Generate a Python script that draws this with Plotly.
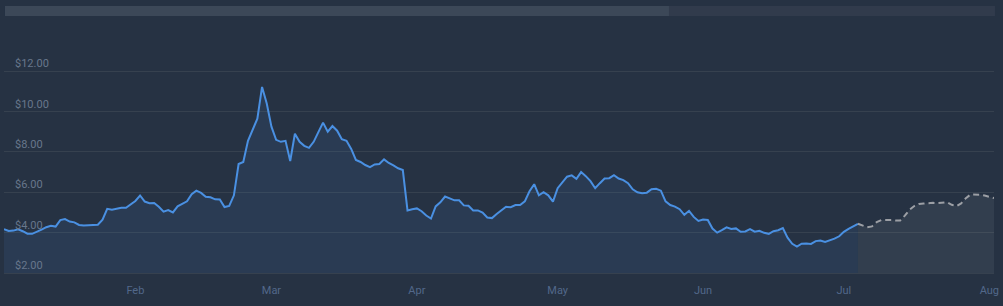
import pandas as pd
import plotly.graph_objects as go

# ---- data ----
hist_start = "2024-01-04"
hist_prices = [
    4.17, 4.08, 4.10, 4.17, 4.07, 3.95, 3.94, 4.03, 4.15, 4.27,
    4.34, 4.30, 4.62, 4.67, 4.55, 4.51, 4.38, 4.35, 4.36, 4.40,
    4.39, 4.64, 5.18, 5.14, 5.20, 5.23, 5.23, 5.40, 5.57, 5.84,
    5.54, 5.46, 5.47, 5.28, 5.04, 5.12, 5.00, 5.30, 5.43, 5.55,
    5.90, 6.08, 5.97, 5.78, 5.75, 5.65, 5.64, 5.27, 5.32, 5.85,
    7.40, 7.50, 8.55, 9.15, 9.65, 11.22, 10.40, 9.25, 8.60, 8.50,
    8.55, 7.55, 8.90, 8.50, 8.30, 8.20, 8.50, 8.98, 9.45, 9.00,
    9.28, 9.05, 8.63, 8.55, 8.15, 7.60, 7.50, 7.35, 7.25, 7.38,
    7.40, 7.63, 7.45, 7.33, 7.19, 7.10, 5.10, 5.16, 5.20, 5.06,
    4.85, 4.70, 5.30, 5.50, 5.79, 5.70, 5.60, 5.60, 5.35, 5.33,
    5.10, 5.10, 4.99, 4.75, 4.72, 4.92, 5.10, 5.28, 5.26, 5.37,
    5.37, 5.55, 6.05, 6.40, 5.85, 6.00, 5.85, 5.54, 6.20, 6.46,
    6.77, 6.84, 6.67, 7.00, 6.80, 6.55, 6.20, 6.45, 6.68, 6.70,
    6.85, 6.68, 6.60, 6.45, 6.15, 6.00, 5.95, 5.98, 6.15, 6.17,
    6.08, 5.55, 5.37, 5.29, 5.16, 4.88, 5.08, 4.78, 4.58, 4.65,
    4.63, 4.20, 4.00, 4.12, 4.26, 4.18, 4.21, 4.04, 4.06, 4.17,
    4.05, 4.09, 3.99, 3.94, 4.07, 4.12, 4.23, 3.75, 3.45, 3.31,
    3.45, 3.46, 3.44, 3.58, 3.61, 3.54, 3.61, 3.70, 3.82, 4.04,
    4.19, 4.30, 4.44,
]
forecast_start = "2024-07-04"
forecast_prices = [
    4.44, 4.35, 4.27, 4.31, 4.52, 4.62, 4.63, 4.62, 4.60, 4.60,
    4.84, 5.13, 5.32, 5.42, 5.44, 5.47, 5.48, 5.46, 5.49, 5.51,
    5.38, 5.31, 5.45, 5.71, 5.89, 5.90, 5.88, 5.84, 5.78, 5.71,
]
y_ticks = [2, 4, 6, 8, 10, 12]
y_tick_labels = ["$2.00", "$4.00", "$6.00", "$8.00", "$10.00", "$12.00"]
x_range = ["2024-01-04", "2024-08-02"]
y_range = [2, 13]

hist_dates = pd.date_range(hist_start, periods=len(hist_prices), freq="D")
forecast_dates = pd.date_range(forecast_start, periods=len(forecast_prices), freq="D")

BG = "#263243"
GRID = "#36414f"

fig = go.Figure()
fig.add_trace(go.Scatter(
    x=hist_dates, y=hist_prices, mode="lines",
    line=dict(color="#4a90e2", width=2),
    fill="tozeroy", fillcolor="rgba(74,144,226,0.10)",
    hoverinfo="skip", showlegend=False,
))
fig.add_trace(go.Scatter(
    x=forecast_dates, y=forecast_prices, mode="lines",
    line=dict(color="#9c9fa5", width=2, dash="6px,4px"),
    fill="tozeroy", fillcolor="rgba(255,255,255,0.06)",
    hoverinfo="skip", showlegend=False,
))

# navigator bar at the top
fig.add_shape(type="rect", xref="paper", yref="paper",
              x0=0.001, x1=1.001, y0=1.1577, y1=1.2027,
              fillcolor="#313b4c", line_width=0, layer="below")
fig.add_shape(type="rect", xref="paper", yref="paper",
              x0=0.001, x1=0.6717, y0=1.1577, y1=1.2027,
              fillcolor="#3c4858", line_width=0, layer="below")

fig.update_layout(
    width=1003, height=306,
    margin=dict(l=4, r=9, t=51, b=33),
    paper_bgcolor=BG, plot_bgcolor=BG,
    font=dict(family="Roboto", size=11),
    xaxis=dict(
        type="date", range=x_range,
        tickformat="%b", dtick="M1", tick0="2024-01-01",
        showgrid=False, zeroline=False,
        showline=True, linecolor=GRID, linewidth=1,
        ticks="", ticklabelstandoff=7,
        tickfont=dict(color="#52688a", size=11),
    ),
    yaxis=dict(
        range=y_range, tickvals=y_ticks, ticktext=y_tick_labels,
        showgrid=True, gridcolor=GRID, gridwidth=1, zeroline=False,
        ticks="", ticklabelposition="inside top", ticklabelstandoff=8,
        tickfont=dict(color="#68778c", size=11),
    ),
)

fig.write_html("out.html")
